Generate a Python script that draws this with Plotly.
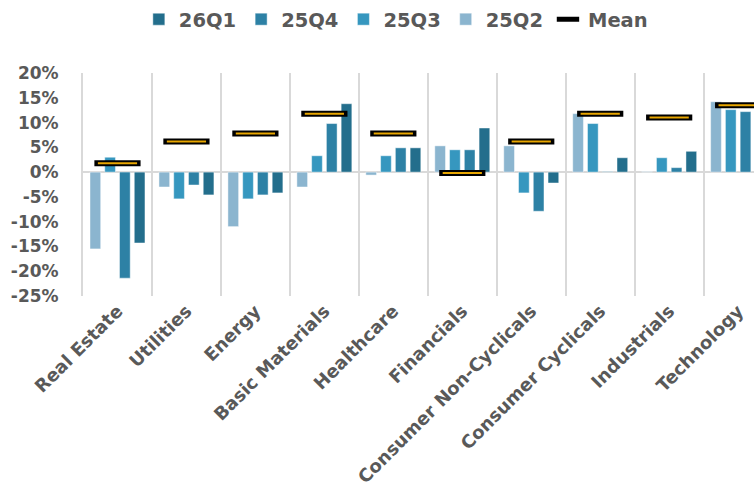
import plotly.graph_objects as go

categories = ["Real Estate", "Utilities", "Energy", "Basic Materials", "Healthcare",
              "Financials", "Consumer Non-Cyclicals", "Consumer Cyclicals",
              "Industrials", "Technology"]

q25q2 = [-15.5, -3.0, -11.0, -3.0, -0.6, 5.3, 5.3, 11.8, 0.1, 14.2]
q25q3 = [3.0, -5.4, -5.4, 3.3, 3.3, 4.5, -4.2, 9.8, 2.9, 12.6]
q25q4 = [-21.4, -2.6, -4.6, 9.8, 4.9, 4.5, -7.9, 0.1, 0.9, 12.2]
q26q1 = [-14.3, -4.6, -4.2, 13.8, 4.9, 8.9, -2.2, 2.9, 4.2, None]
mean_vals = [1.8, 6.2, 7.8, 11.8, 7.8, -0.2, 6.2, 11.8, 11.0, 13.5]

yticks = [20, 15, 10, 5, 0, -5, -10, -15, -20, -25]
ytick_text = [f"{v}%" for v in yticks]

series = [
    ("25Q2", q25q2, "#8BB5CF", 4),
    ("25Q3", q25q3, "#3697BF", 3),
    ("25Q4", q25q4, "#2D81A5", 2),
    ("26Q1", q26q1, "#236E8C", 1),
]

FONT = "DejaVu Sans"
GREY = "#595959"

fig = go.Figure()
for name, vals, color, rank in series:
    fig.add_trace(go.Bar(
        x=categories, y=vals, name=name, legendrank=rank,
        marker=dict(color=color, line=dict(color="rgba(255,255,255,0.45)", width=1)),
    ))

fig.add_trace(go.Scatter(
    x=categories, y=mean_vals, name="Mean", mode="markers", legendrank=5,
    marker=dict(symbol="line-ew", size=33, color="#000000",
                line=dict(color="#000000", width=6)),
))
fig.add_trace(go.Scatter(
    x=categories, y=mean_vals, name="Mean", mode="markers", showlegend=False,
    hoverinfo="skip",
    marker=dict(symbol="line-ew", size=28, color="#E8A600",
                line=dict(color="#E8A600", width=2)),
))

fig.update_layout(
    width=754, height=488,
    margin=dict(l=83, r=0, t=73, b=192),
    paper_bgcolor="white", plot_bgcolor="white",
    barmode="group", bargap=0.144, bargroupgap=0.275,
    font=dict(family=FONT, color=GREY, size=17),
    legend=dict(
        orientation="h", xref="container", yref="container",
        x=0.525, xanchor="center", y=1.0, yanchor="top",
        font=dict(family=FONT, size=19.5, color=GREY, weight="bold"),
        itemwidth=30, tracegroupgap=0,
    ),
    xaxis=dict(
        type="category", range=[-0.5, 9.23], tickson="boundaries",
        showgrid=True, gridcolor="#D9D9D9", gridwidth=2,
        ticks="", tickangle=-45, ticklabelstandoff=0, automargin=False,
        tickfont=dict(family=FONT, size=18, color=GREY, weight="bold"),
        showline=False, zeroline=False,
    ),
    yaxis=dict(
        range=[-25, 20], tickvals=yticks, ticktext=ytick_text, automargin=False,
        showgrid=False, zeroline=True, zerolinecolor="#D9D9D9", zerolinewidth=2,
        showline=True, linecolor="#D9D9D9", linewidth=2,
        ticks="", ticklabelstandoff=19,
        tickfont=dict(family=FONT, size=17, color=GREY, weight="bold"),
    ),
)

fig.write_html("out.html")
